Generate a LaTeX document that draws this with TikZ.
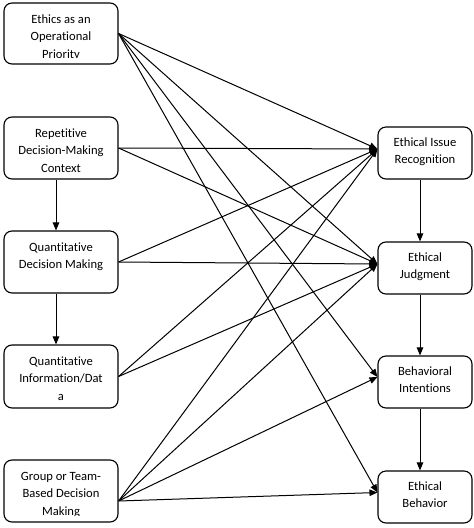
\documentclass[tikz,border=0pt]{standalone}
\usepackage{fontspec}
\setmainfont{Carlito}[Ligatures={NoCommon,NoDiscretionary,NoContextual}]
\usetikzlibrary{arrows.meta,calc}
\begin{document}
\begin{tikzpicture}[x=1pt,y=-1pt,
  box/.style={draw, rounded corners=8pt, line width=1.1pt, inner sep=0pt},
  lbox/.style={box, minimum width=114pt},
  rbox/.style={box, minimum width=94pt, minimum height=52pt},
  txt/.style={inner sep=0pt, anchor=north, align=center, font=\fontsize{12.6}{17.5}\selectfont},
  link/.style={line width=1pt, -{Triangle[length=8pt,width=6.5pt]}}
]
\useasboundingbox (0,0) rectangle (474,528);

% left boxes
\node[lbox, minimum height=61pt] (L1) at (61,33.5) {};
\node[lbox, minimum height=62pt] (L2) at (61,148) {};
\node[lbox, minimum height=62pt] (L3) at (61,262) {};
\node[lbox, minimum height=63pt] (L4) at (61,376.5) {};
\node[lbox, minimum height=62pt] (L5) at (61,491) {};

% right boxes
\node[rbox] (R1) at (425,153) {};
\node[rbox] (R2) at (425,268) {};
\node[rbox] (R3) at (425,382) {};
\node[rbox] (R4) at (425,497) {};

% left texts (clipped as in the original)
\begin{scope}
  \clip (4,3) rectangle (118,57);
  \node[txt] (L1t) at (61,10.75) {\strut Ethics as an\\Operational\\Priority};
\end{scope}
\begin{scope}
  \clip (4,117) rectangle (118,172);
  \node[txt] (L2t) at (61,124.75) {\strut Repetitive\\Decision-Making\\Context};
\end{scope}
\node[txt] (L3t) at (61,238.75) {\strut Quantitative\\Decision Making};
\node[txt] (L4t) at (61,352.75) {\strut Quantitative\\Information/Dat\\a};
\begin{scope}
  \clip (4,460) rectangle (118,515);
  \node[txt] (L5t) at (61,467.75) {\strut Group or Team-\\Based Decision\\Making};
\end{scope}

% right texts
\node[txt] (R1t) at (425,133.75) {\strut Ethical Issue\\Recognition};
\node[txt] (R2t) at (425,248.75) {\strut Ethical\\Judgment};
\node[txt] (R3t) at (425,362.75) {\strut Behavioral\\Intentions};
\node[txt] (R4t) at (425,477.75) {\strut Ethical\\Behavior};

% target points
\coordinate (R1in) at ([yshift=4pt]R1.west);
\coordinate (R2in) at ([yshift=4pt]R2.west);
\coordinate (R3in) at ([yshift=5pt]R3.west);
\coordinate (R4in) at ([yshift=4.5pt]R4.west);
\coordinate (L5out) at ([yshift=-10pt]L5.east);

% connectors
\draw[link] (L1.east) -- (R1in);
\draw[link] (L1.east) -- (R2in);
\draw[link] (L1.east) -- (R3in);
\draw[link] (L1.east) -- (R4in);
\draw[link] (L2.east) -- (R1in);
\draw[link] (L2.east) -- (R2in);
\draw[link] (L3.east) -- (R1in);
\draw[link] (L3.east) -- (R2in);
\draw[link] (L4.east) -- (R1in);
\draw[link] (L4.east) -- (R2in);
\draw[link] (L5out) -- (R1in);
\draw[link] (L5out) -- (R2in);
\draw[link] (L5out) -- (R3in);
\draw[link] (L5out) -- (R4in);

% vertical arrows
\draw[link] ([xshift=-5pt]L2.south) -- ([xshift=-5pt]L3.north);
\draw[link] ([xshift=-5pt]L3.south) -- ([xshift=-5pt]L4.north);
\draw[link] ([xshift=-5pt]R1.south) -- ([xshift=-5pt]R2.north);
\draw[link] ([xshift=-5pt]R2.south) -- ([xshift=-5pt]R3.north);
\draw[link] ([xshift=-5pt]R3.south) -- ([xshift=-5pt]R4.north);
\end{tikzpicture}
\end{document}
